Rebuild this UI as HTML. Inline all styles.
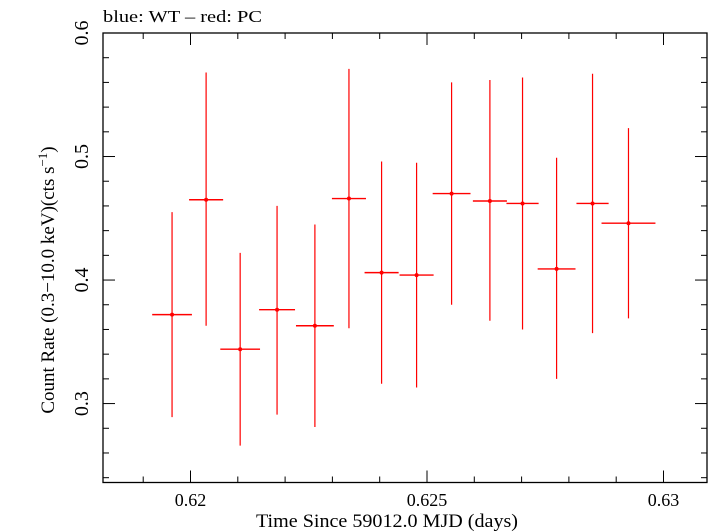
<!DOCTYPE html>
<html><head><meta charset="utf-8"><style>
html,body{margin:0;padding:0;background:#fff}
svg{display:block;font-family:"Liberation Serif",serif}
</style></head><body>
<svg id="chart" width="709" height="532" viewBox="0 0 709 532">
<text x="103" y="22" font-size="17" textLength="159" lengthAdjust="spacingAndGlyphs">blue: WT – red: PC</text>
<rect x="103" y="33" width="604" height="449.5" fill="none" stroke="#000" stroke-width="1.3"/>
<g id="ticks"></g>
<g id="marks"></g>
<text x="387" y="527" font-size="19" text-anchor="middle" textLength="262" lengthAdjust="spacingAndGlyphs">Time Since 59012.0 MJD (days)</text>
<text transform="translate(54,280) rotate(-90)" font-size="19" text-anchor="middle">Count Rate (0.3−10.0 keV)(cts s<tspan font-size="13" dy="-7">−1</tspan><tspan dy="7">)</tspan></text>
</svg>
<script>
const times=[0.61961,0.62033,0.62105,0.62183,0.62263,0.62335,0.62404,0.62478,0.62552,0.62633,0.62702,0.62774,0.62850,0.62926];
const halfWidths=[0.00042,0.00036,0.00042,0.00038,0.0004,0.00036,0.00036,0.00036,0.0004,0.00036,0.00034,0.0004,0.00034,0.00057];
const rates=[0.372,0.465,0.344,0.376,0.363,0.466,0.406,0.404,0.470,0.464,0.462,0.409,0.462,0.446];
const lows=[0.289,0.363,0.266,0.291,0.281,0.361,0.316,0.313,0.380,0.367,0.360,0.320,0.357,0.369];
const highs=[0.455,0.568,0.422,0.460,0.445,0.571,0.496,0.495,0.560,0.562,0.564,0.499,0.567,0.523];
const xTickLabels=["0.62","0.625","0.63"];
const yTickLabels=["0.3","0.4","0.5","0.6"];
const X0=103,X1=707,Y0=482.5,Y1=33,xmin=0.61815,xmax=0.63092,ymin=0.2361,ymax=0.6;
const sx=v=>X0+(v-xmin)/(xmax-xmin)*(X1-X0);
const sy=v=>Y0-(v-ymin)/(ymax-ymin)*(Y0-Y1);
const NS="http://www.w3.org/2000/svg";
function mk(t,a,p){const e=document.createElementNS(NS,t);for(const k in a)e.setAttribute(k,a[k]);p.appendChild(e);return e;}
const tg=document.getElementById('ticks'),mg=document.getElementById('marks');
for(let i=0;i<=13;i++){const v=0.618+i*0.001;if(v<xmin||v>xmax)continue;const x=sx(v);const major=Math.abs((v*1000)%5)<1e-6||Math.abs((v*1000)%5-5)<1e-6;const L=major?12:6;
const a=mk('line',{x1:x,x2:x,y1:Y0,y2:Y0-L,stroke:'#000','stroke-width':1},tg);


const b=mk('line',{x1:x,x2:x,y1:Y1,y2:Y1+L,stroke:'#000','stroke-width':1},tg);

}
xTickLabels.forEach(s=>{const t=mk('text',{x:sx(parseFloat(s)),y:506,'font-size':18,'text-anchor':'middle'},tg);t.textContent=s;

});
for(let i=0;i<=19;i++){const v=0.24+i*0.02;if(v<ymin||v>ymax+1e-9)continue;const y=sy(v);const major=Math.abs(Math.round(v*10)-v*10)<1e-6;const L=major?12:6;
const a=mk('line',{x1:X0,x2:X0+L,y1:y,y2:y,stroke:'#000','stroke-width':1},tg);


const b=mk('line',{x1:X1,x2:X1-L,y1:y,y2:y,stroke:'#000','stroke-width':1},tg);

}
yTickLabels.forEach(s=>{const y=sy(parseFloat(s));const t=mk('text',{transform:`translate(88,${y}) rotate(-90)`,'font-size':20,'text-anchor':'middle'},tg);t.textContent=s;

});
times.forEach((t,i)=>{const g=mk('g',{},mg);


mk('line',{x1:sx(t),x2:sx(t),y1:sy(lows[i]),y2:sy(highs[i]),stroke:'#f00','stroke-width':1.2},g);
mk('line',{x1:sx(t-halfWidths[i]),x2:sx(t+halfWidths[i]),y1:sy(rates[i]),y2:sy(rates[i]),stroke:'#f00','stroke-width':1.4},g);
mk('circle',{cx:sx(t),cy:sy(rates[i]),r:2,fill:'#f00'},g);});
</script>
</body></html>
